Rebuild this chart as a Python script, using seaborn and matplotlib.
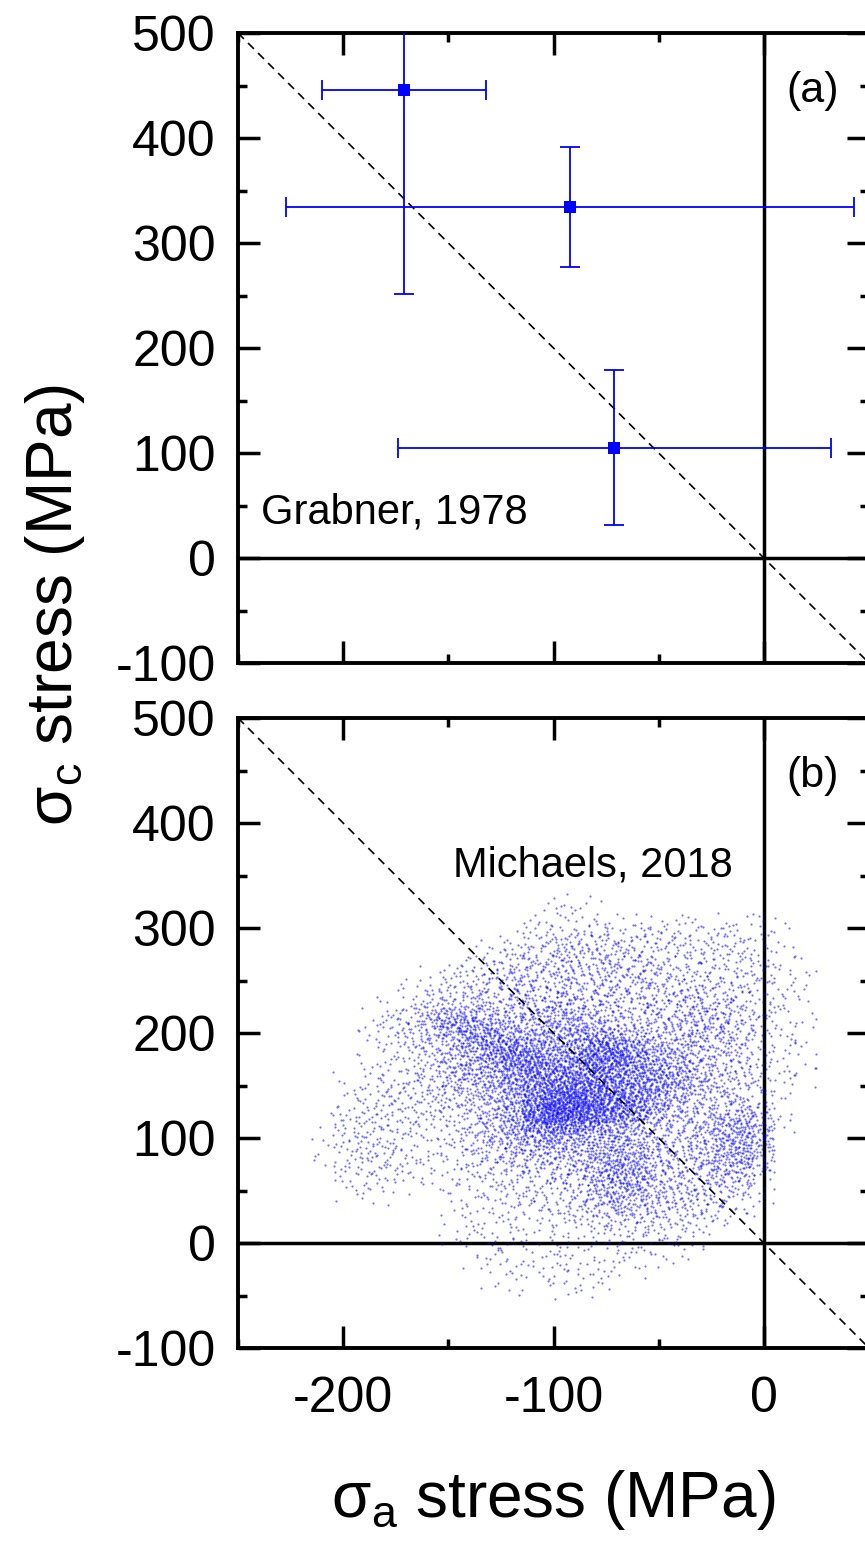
import matplotlib
matplotlib.use("Agg")
import matplotlib.pyplot as plt
from matplotlib.ticker import MultipleLocator
import seaborn as sns

# Panel (a): Grabner, 1978 -- points with error bars (MPa)
grabner_sa = [-171, -92, -71]
grabner_sc = [446, 334, 105]
grabner_sa_err = [39, 135, 103]
grabner_sc_err = [195, 57, 74]

# Panel (b): Michaels, 2018 -- dot cloud, read from the picture as a
# density level (0-9) for each 10 x 10 MPa cell
cloud_x_left = list(range(-210, 30, 10))      # 24 columns
cloud_y_bottom = list(range(320, -60, -10))   # 38 rows, top to bottom
cloud_density = [
    "000000000001100000000000",
    "000000000011100000000000",
    "000000000011111111111100",
    "000000000122222222121100",
    "000000001223323222221100",
    "000000012233333222222100",
    "000000122333333322222110",
    "000001223333333332222110",
    "000012233333333332322110",
    "000112333334333333322110",
    "000123333444433333432110",
    "001235644445433334432110",
    "001234664445543334432110",
    "001233476555665434432110",
    "001123457755687544332110",
    "001123456866787554332110",
    "001123455776776654332110",
    "011223445677776665332110",
    "012223345678877654332100",
    "012222334589877643332100",
    "022222334699987643344100",
    "122221234688765433455100",
    "122211234566554333455100",
    "122211234455455433455000",
    "122211223444455433455000",
    "122211123333456433454000",
    "022111122233456433343000",
    "011101112222355433332000",
    "011000112222345433321000",
    "000000111222344333221000",
    "000000111112233322210000",
    "000000111111122222100000",
    "000000111111112211000000",
    "000000011011111111000000",
    "000000011111111110000000",
    "000000001111111000000000",
    "000000001011110000000000",
    "000000001001100000000000",
]
dots_per_level = [0, 4, 8, 14, 22, 32, 45, 60, 78, 100]


def halton(i, base):
    # low-discrepancy spread of the dots around one cell
    f, r = 1.0, 0.0
    while i > 0:
        f /= base
        r += f * (i % base)
        i //= base
    return r


cloud_sa, cloud_sc = [], []
k = 1
for row, yb in zip(cloud_density, cloud_y_bottom):
    for level, xl in zip(row, cloud_x_left):
        for _ in range(dots_per_level[int(level)]):
            # each cell's dots cover a box twice the cell size, so the
            # neighbouring cells blend and no grid edges show
            cloud_sa.append(xl - 5 + 20 * halton(k, 2))
            cloud_sc.append(yb - 5 + 20 * halton(k, 3))
            k += 1

sns.set_theme(style="ticks")
plt.rcParams["font.family"] = ["Liberation Sans", "DejaVu Sans"]
plt.rcParams["mathtext.fontset"] = "custom"
plt.rcParams["mathtext.rm"] = "Liberation Sans"
plt.rcParams["axes.unicode_minus"] = False
plt.rcParams["text.color"] = "black"

fig = plt.figure(figsize=(8.65, 15.43), dpi=100)
W, H = 865, 1543
ax_a = fig.add_axes([238 / W, (H - 663) / H, (869 - 238) / W, 630 / H])
ax_b = fig.add_axes([238 / W, (H - 1348) / H, (869 - 238) / W, 630 / H])

for ax in (ax_a, ax_b):
    ax.set_xlim(-250, 50)
    ax.set_ylim(-100, 500)
    ax.axhline(0, color="black", lw=2.5, zorder=1)
    ax.axvline(0, color="black", lw=2.5, zorder=1)
    ax.axline((0, 0), slope=-2, color="black", lw=1.2, ls=(0, (5, 3.5)), zorder=3)
    ax.xaxis.set_major_locator(MultipleLocator(100))
    ax.xaxis.set_minor_locator(MultipleLocator(50))
    ax.yaxis.set_major_locator(MultipleLocator(100))
    ax.yaxis.set_minor_locator(MultipleLocator(50))
    ax.tick_params(which="both", direction="in", top=True, right=True,
                   width=2.5, colors="black", labelsize=36)
    ax.tick_params(which="major", length=16)
    ax.tick_params(which="minor", length=6.5)
    ax.tick_params(axis="y", pad=16)
    ax.tick_params(axis="x", pad=20)
    for sp in ax.spines.values():
        sp.set_linewidth(2.8)
        sp.set_color("black")

ax_a.tick_params(axis="x", labelbottom=False)

# (a) Grabner
ax_a.errorbar(grabner_sa, grabner_sc, xerr=grabner_sa_err, yerr=grabner_sc_err,
              fmt="none", ecolor="blue", elinewidth=1.3, capsize=7, capthick=1.3, zorder=3)
sns.scatterplot(x=grabner_sa, y=grabner_sc, marker="s", s=75, color="blue",
                linewidth=0, ax=ax_a, zorder=4)
ax_a.text(-239, 33, "Grabner, 1978", fontsize=30, ha="left", va="baseline")
ax_a.text(23, 445, "(a)", fontsize=31, ha="center", va="center")

# (b) Michaels
sns.scatterplot(x=cloud_sa, y=cloud_sc, s=2.5, color="blue", alpha=0.55,
                linewidth=0, ax=ax_b, zorder=2)
ax_b.text(-148, 349, "Michaels, 2018", fontsize=30, ha="left", va="baseline")
ax_b.text(23, 445, "(b)", fontsize=31, ha="center", va="center")

for ax in (ax_a, ax_b):
    ax.set_xlabel("")
    ax.set_ylabel("")

fig.text(553 / W, 1 - 1500 / H, r"σ$_\mathregular{a}$ stress (MPa)", fontsize=46,
         ha="center", va="center")
fig.text(55 / W, 1 - 605 / H, r"σ$_\mathregular{c}$ stress (MPa)", fontsize=46,
         ha="center", va="center", rotation=90)

fig.savefig("out.png", dpi=100)
